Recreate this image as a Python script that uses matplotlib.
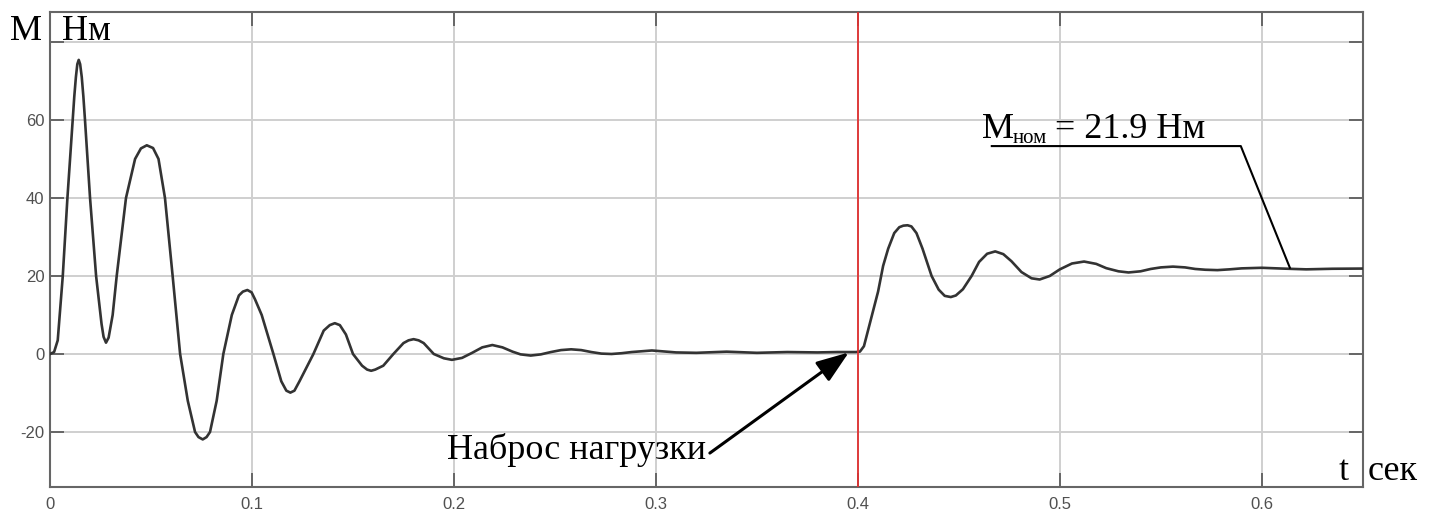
import numpy as np
import matplotlib
matplotlib.use("Agg")
import matplotlib.pyplot as plt

# moment vs time
t = [0, 0.002, 0.0038, 0.0063, 0.0086, 0.0112, 0.012, 0.0128, 0.0135, 0.0142,
     0.0149, 0.0157, 0.0165, 0.0173, 0.0198, 0.0228, 0.0255, 0.0265, 0.0277, 0.029,
     0.031, 0.033, 0.0376, 0.0421, 0.045, 0.0479, 0.051, 0.0537, 0.0569, 0.0607,
     0.0644, 0.0682, 0.0718, 0.0735, 0.0756, 0.0775, 0.0792, 0.0825, 0.0858, 0.090,
     0.0935, 0.0955, 0.0977, 0.0998, 0.1015, 0.1048, 0.1106, 0.1145, 0.117, 0.119,
     0.121, 0.1235, 0.1304, 0.1355, 0.1385, 0.141, 0.1435, 0.1465, 0.150, 0.1545,
     0.157, 0.159, 0.161, 0.165, 0.170, 0.175, 0.1775, 0.180, 0.1825, 0.185,
     0.190, 0.195, 0.199, 0.204, 0.209, 0.214, 0.219, 0.224, 0.229, 0.233,
     0.238, 0.243, 0.248, 0.253, 0.258, 0.263, 0.268, 0.273, 0.278, 0.283,
     0.288, 0.298, 0.31, 0.32, 0.335, 0.35, 0.365, 0.38, 0.39, 0.399,
     0.401, 0.403, 0.405, 0.4075, 0.41, 0.4125, 0.415, 0.418, 0.4205, 0.4225,
     0.4246, 0.4265, 0.429, 0.432, 0.4365, 0.440, 0.443, 0.446, 0.4485, 0.452,
     0.4563, 0.460, 0.464, 0.468, 0.472, 0.476, 0.481, 0.486, 0.490, 0.495,
     0.500, 0.506, 0.512, 0.518, 0.523, 0.529, 0.534, 0.540, 0.545, 0.550,
     0.556, 0.562, 0.567, 0.572, 0.578, 0.584, 0.590, 0.600, 0.610, 0.622,
     0.635, 0.65]
M = [0, 0.5, 3.5, 20, 40, 60, 66, 71, 74.3, 75.4,
     74.3, 71, 66, 60, 40, 20, 7.7, 4.4, 2.9, 4.2,
     10, 20, 40, 50, 52.7, 53.5, 52.8, 50, 40, 20,
     0, -12, -20, -21.3, -21.9, -21.3, -20, -12, 0, 10,
     15, 16, 16.4, 15.8, 14, 10, 0, -7, -9.4, -9.9,
     -9.4, -7, 0, 6, 7.4, 7.9, 7.4, 5, 0, -3,
     -4.0, -4.3, -4.0, -3, 0, 2.8, 3.5, 3.8, 3.5, 2.8,
     0, -1.1, -1.5, -1.0, 0.3, 1.7, 2.3, 1.7, 0.6, -0.1,
     -0.4, -0.1, 0.5, 1.0, 1.2, 1.0, 0.5, 0.1, 0.0, 0.2,
     0.5, 0.9, 0.4, 0.3, 0.6, 0.3, 0.5, 0.4, 0.5, 0.5,
     0.6, 2, 6, 11, 16, 22.6, 27, 31, 32.5, 32.9,
     33, 32.7, 31, 27, 20, 16.5, 14.9, 14.6, 15.0, 16.6,
     20, 23.6, 25.7, 26.3, 25.6, 23.8, 21, 19.4, 19.1, 20,
     21.7, 23.2, 23.7, 23.1, 22, 21.2, 20.9, 21.2, 21.8, 22.2,
     22.4, 22.2, 21.8, 21.6, 21.5, 21.7, 21.95, 22.1, 21.9, 21.7,
     21.85, 21.9]

x_ticks = [0, 0.1, 0.2, 0.3, 0.4, 0.5, 0.6]
x_labels = ["0", "0.1", "0.2", "0.3", "0.4", "0.5", "0.6"]
y_ticks = [-20, 0, 20, 40, 60, 80]
y_labels = ["-20", "0", "20", "40", "60", ""]
t_load = 0.4

serif = ["Liberation Serif", "DejaVu Serif"]

fig = plt.figure(figsize=(14.3, 5.17), dpi=100)
ax = fig.add_axes([0.035, 0.058, 0.918, 0.919])

ax.plot(t, M, color="#333333", lw=1.9, zorder=3, solid_joinstyle="round")
ax.axvline(t_load, color="#e03030", lw=1.3, zorder=4)

ax.set_xlim(0, 0.65)
ax.set_ylim(-34.1, 87.7)
ax.set_xticks(x_ticks)
ax.set_xticklabels(x_labels)
ax.set_yticks(y_ticks)
ax.set_yticklabels(y_labels)
ax.grid(True, color="#cfcfcf", lw=1.4)
ax.set_axisbelow(True)
ax.tick_params(direction="in", length=10, width=1.4, color="#666666",
               top=True, right=True, labelsize=12, labelcolor="#505050")
ax.tick_params(axis="x", pad=7)
ax.tick_params(axis="y", pad=4)
for lbl in ax.get_xticklabels() + ax.get_yticklabels():
    lbl.set_family("Liberation Sans")
for s in ax.spines.values():
    s.set_color("#666666")
    s.set_linewidth(1.5)

# axis captions
fig.text(10 / 1430, 1 - 40 / 517, "М", family=serif, fontsize=26, va="baseline")
fig.text(62 / 1430, 1 - 40 / 517, "Нм", family=serif, fontsize=26, va="baseline")
fig.text(1339 / 1430, 1 - 480 / 517, "t", family=serif, fontsize=26, va="baseline")
fig.text(1368 / 1430, 1 - 480 / 517, "сек", family=serif, fontsize=26, va="baseline")

# load step annotation
ax.text(0.3248, -27.0, "Наброс нагрузки", family=serif, fontsize=26,
        ha="right", va="baseline", zorder=5)
ax.annotate("", xy=(0.3955, 0.4), xytext=(0.3267, -25.4),
            arrowprops=dict(arrowstyle="-|>,head_length=1.1,head_width=0.4",
                            mutation_scale=18, color="black", lw=2.2,
                            shrinkA=0, shrinkB=0),
            zorder=5)

# nominal moment annotation
fig.text(982 / 1430, 1 - 138 / 517, "М", family=serif, fontsize=26, va="baseline")
fig.text(1013 / 1430, 1 - 143 / 517, "ном", family=serif, fontsize=15, va="baseline")
fig.text(1055 / 1430, 1 - 138 / 517, "= 21.9 Нм", family=serif, fontsize=26, va="baseline")
ax.plot([0.4663, 0.5896, 0.6139], [53.3, 53.3, 22.1], color="black", lw=1.5,
        zorder=5, clip_on=False)

fig.savefig("out.png", dpi=100)
